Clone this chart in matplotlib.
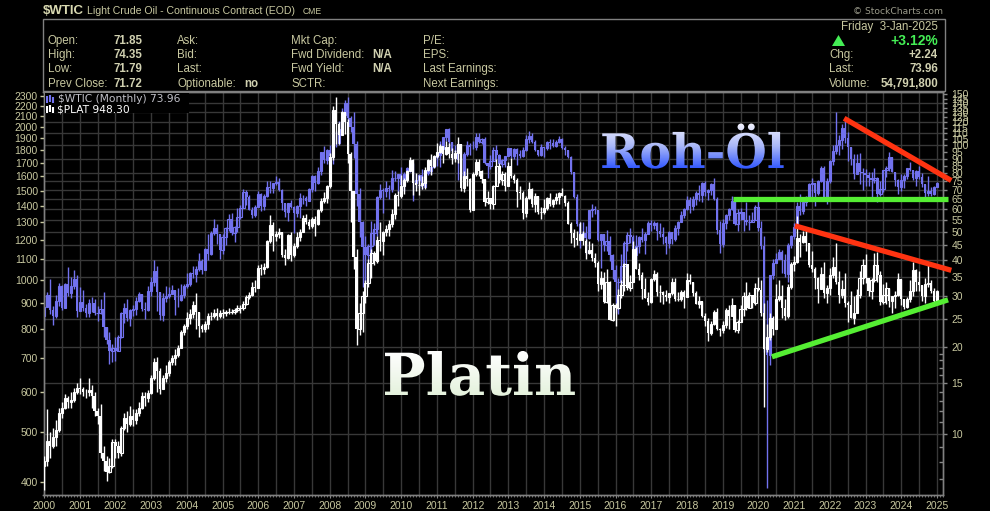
import numpy as np
import matplotlib
matplotlib.use("Agg")
import matplotlib.pyplot as plt
import matplotlib.ticker as mticker
from matplotlib.patches import Rectangle, PathPatch, Polygon
from matplotlib.textpath import TextPath
from matplotlib.font_manager import FontProperties
from matplotlib.transforms import Affine2D
from matplotlib.colors import LinearSegmentedColormap

# ---- data: monthly bars Jan 2000 .. Jan 2025 ----
wtic_first_open = 25.60
wtic_last_open = 71.85
wtic_close = [
    27.64, 30.43, 26.90, 25.74, 29.01, 32.50, 27.43, 33.12, 30.84, 32.70, 34.40, 26.80,  # 2000
    28.66, 27.39, 26.29, 28.46, 28.37, 26.25, 26.35, 27.20, 23.43, 21.18, 19.44, 19.84,  # 2001
    19.48, 21.74, 26.31, 27.29, 25.31, 26.86, 27.02, 28.98, 30.45, 27.22, 26.89, 31.20,  # 2002
    33.51, 36.60, 31.04, 25.80, 29.56, 30.19, 30.54, 31.57, 29.20, 29.11, 30.41, 32.52,  # 2003
    33.05, 36.16, 35.76, 37.38, 39.88, 37.05, 43.80, 42.12, 49.64, 51.76, 49.13, 43.45,  # 2004
    48.20, 51.75, 55.40, 49.72, 51.97, 56.50, 60.57, 68.94, 66.24, 59.76, 57.32, 61.04,  # 2005
    67.92, 61.41, 66.63, 71.88, 71.29, 73.93, 74.40, 70.26, 62.91, 58.73, 63.13, 61.05,  # 2006
    58.14, 61.79, 65.87, 65.71, 64.01, 70.68, 78.21, 74.04, 81.66, 94.53, 88.71, 95.98,  # 2007
    91.75, 101.84, 101.58, 113.46, 127.35, 140.00, 124.08, 115.46, 100.64, 67.81, 54.43, 44.60,  # 2008
    41.68, 44.76, 49.66, 51.12, 66.31, 69.89, 69.45, 70.94, 70.61, 77.00, 77.28, 79.36,  # 2009
    72.89, 79.66, 83.76, 86.15, 73.97, 75.63, 78.95, 71.92, 79.97, 81.43, 84.11, 91.38,  # 2010
    92.19, 96.97, 106.72, 113.93, 102.70, 95.42, 95.70, 88.81, 79.20, 93.19, 100.36, 98.83,  # 2011
    98.48, 107.07, 103.02, 104.87, 86.53, 84.96, 88.06, 96.47, 92.19, 86.24, 88.91, 91.82,  # 2012
    97.49, 92.05, 97.23, 93.46, 91.97, 96.56, 105.03, 107.65, 102.33, 96.38, 92.72, 98.42,  # 2013
    97.49, 102.59, 101.58, 99.74, 102.71, 105.37, 98.17, 95.96, 91.16, 80.54, 66.15, 53.27,  # 2014
    48.24, 49.76, 47.60, 59.63, 60.30, 59.47, 47.12, 49.20, 45.09, 46.59, 41.65, 37.04,  # 2015
    33.62, 33.75, 38.34, 45.92, 49.10, 48.33, 41.60, 44.70, 48.24, 46.86, 49.44, 53.72,  # 2016
    52.81, 54.01, 50.60, 49.33, 48.32, 46.04, 50.17, 47.23, 51.67, 54.38, 57.40, 60.42,  # 2017
    64.73, 61.64, 64.94, 68.57, 67.04, 74.15, 68.76, 69.80, 73.25, 65.31, 50.93, 45.41,  # 2018
    53.79, 57.22, 60.14, 63.91, 53.50, 58.47, 58.58, 55.10, 54.07, 54.18, 55.17, 61.06,  # 2019
    51.56, 44.76, 20.48, 18.84, 35.49, 39.27, 40.27, 42.61, 40.22, 35.79, 45.34, 48.52,  # 2020
    52.20, 61.50, 59.16, 63.58, 66.32, 73.47, 73.95, 68.50, 75.03, 83.57, 66.18, 75.21,  # 2021
    88.15, 95.72, 100.28, 104.69, 114.67, 105.76, 98.62, 89.55, 79.49, 86.53, 80.55, 80.26,  # 2022
    78.87, 77.05, 75.67, 76.78, 68.09, 70.64, 81.80, 83.63, 90.79, 81.02, 75.96, 71.65,  # 2023
    75.85, 78.26, 83.17, 81.93, 76.99, 81.54, 77.91, 73.55, 68.17, 69.26, 68.00, 71.72,  # 2024
    73.96,  # Jan 2025
]
wtic_high = [
    30.25, 31.00, 34.37, 27.80, 30.30, 33.30, 32.90, 33.40, 37.80, 35.10, 37.00, 35.70,
    32.20, 31.50, 28.30, 29.40, 29.90, 29.30, 27.80, 29.30, 31.10, 23.40, 22.50, 20.50,
    21.70, 22.00, 26.50, 28.40, 29.30, 27.10, 28.00, 29.90, 31.10, 30.60, 28.60, 32.70,
    35.10, 39.99, 38.10, 31.10, 30.80, 32.50, 32.30, 32.80, 30.00, 32.10, 33.00, 33.20,
    36.00, 36.50, 38.30, 38.20, 42.40, 40.40, 44.20, 49.40, 50.50, 55.70, 53.20, 47.00,
    49.40, 52.00, 57.60, 58.30, 52.50, 60.90, 62.30, 70.85, 70.00, 67.40, 61.00, 61.90,
    69.20, 68.20, 67.70, 75.35, 75.20, 74.20, 78.40, 77.30, 70.40, 62.90, 63.30, 64.60,
    61.60, 62.30, 68.10, 67.40, 66.70, 71.10, 78.77, 78.60, 84.10, 94.74, 99.29, 96.80,
    100.09, 103.05, 111.80, 120.93, 135.09, 143.67, 147.27, 126.00, 130.00, 103.80, 71.40, 54.70,
    48.60, 45.50, 54.70, 53.80, 66.70, 73.38, 71.00, 75.00, 72.80, 82.00, 81.50, 79.70,
    83.95, 80.50, 83.90, 87.15, 87.00, 79.30, 79.30, 83.00, 80.20, 84.60, 88.60, 92.00,
    92.60, 103.40, 106.95, 113.93, 114.80, 102.40, 100.60, 98.30, 90.50, 94.60, 103.40, 101.80,
    103.70, 110.50, 110.55, 106.30, 106.40, 86.90, 92.90, 98.30, 100.40, 93.60, 89.90, 91.90,
    98.20, 98.20, 97.80, 97.80, 96.10, 99.00, 108.90, 112.24, 110.70, 104.30, 95.70, 100.80,
    98.30, 103.40, 105.20, 104.90, 104.20, 107.70, 106.00, 99.30, 95.90, 91.50, 80.10, 67.60,
    54.30, 54.20, 52.50, 59.90, 62.60, 61.60, 59.30, 49.30, 49.20, 50.90, 48.40, 42.10,
    38.40, 34.70, 41.90, 46.80, 50.20, 51.70, 49.00, 48.80, 48.40, 51.90, 50.00, 54.50,
    55.20, 54.90, 54.40, 53.80, 52.00, 48.70, 50.40, 50.20, 52.80, 54.90, 59.05, 60.50,
    66.66, 66.30, 66.60, 69.60, 72.90, 74.50, 75.30, 70.40, 73.90, 76.90, 66.00, 54.60,
    55.40, 57.80, 60.70, 66.60, 63.80, 60.00, 60.90, 58.20, 63.40, 57.40, 58.70, 61.90,
    65.65, 54.60, 48.70, 29.10, 35.50, 40.40, 42.50, 43.80, 43.50, 41.90, 45.90, 49.10,
    53.90, 63.80, 67.90, 65.50, 67.00, 74.30, 76.98, 71.50, 76.00, 84.97, 84.60, 76.90,
    88.80, 100.50, 130.50, 108.50, 118.70, 123.70, 111.40, 97.70, 93.60, 93.60, 93.70, 83.30,
    82.70, 80.60, 81.00, 83.50, 77.40, 75.10, 82.00, 84.90, 95.00, 90.00, 80.20, 76.20,
    79.30, 79.60, 83.50, 87.70, 81.50, 82.30, 84.50, 80.20, 71.80, 78.50, 71.90, 72.50,
    74.35,
]
wtic_low = [
    24.70, 27.50, 26.10, 23.85, 25.30, 27.80, 26.90, 27.50, 30.00, 29.60, 31.80, 25.50,
    26.60, 26.70, 25.50, 25.50, 26.40, 25.80, 24.60, 26.10, 21.70, 20.50, 17.45, 17.80,
    17.90, 19.50, 21.50, 24.30, 24.70, 23.60, 25.70, 25.80, 28.70, 26.80, 25.00, 26.60,
    30.00, 32.60, 26.80, 24.80, 24.60, 28.60, 29.70, 30.70, 25.90, 27.50, 28.80, 29.60,
    32.10, 32.70, 34.70, 33.60, 36.80, 35.90, 36.90, 40.20, 41.60, 48.90, 45.60, 40.30,
    42.10, 45.00, 50.60, 49.10, 46.20, 50.30, 55.70, 60.80, 62.30, 59.60, 56.20, 56.60,
    61.20, 59.30, 59.60, 66.10, 68.40, 68.10, 72.60, 69.50, 59.50, 56.60, 54.90, 60.50,
    49.90, 56.40, 56.20, 62.80, 61.50, 63.90, 69.00, 69.20, 73.50, 79.00, 86.90, 86.10,
    86.10, 86.10, 98.70, 100.30, 109.20, 122.30, 120.40, 111.30, 90.50, 61.80, 48.20, 32.40,
    33.55, 33.50, 40.00, 45.00, 48.50, 65.40, 58.30, 66.30, 65.10, 69.10, 75.20, 68.60,
    72.40, 69.50, 78.00, 81.10, 64.20, 71.20, 71.30, 70.80, 72.60, 78.80, 79.40, 86.10,
    85.10, 84.10, 96.80, 103.80, 94.60, 89.60, 93.40, 75.70, 77.10, 74.95, 91.50, 92.50,
    97.30, 96.40, 102.00, 100.70, 85.80, 77.30, 83.00, 88.00, 90.00, 84.10, 84.10, 84.30,
    91.70, 90.60, 89.30, 85.60, 90.10, 91.00, 95.90, 102.20, 101.60, 95.90, 91.70, 91.80,
    91.20, 96.50, 97.40, 98.60, 98.40, 101.80, 97.20, 92.50, 90.40, 79.80, 65.70, 52.70,
    44.20, 47.30, 42.03, 47.30, 56.60, 58.00, 46.70, 37.75, 43.20, 43.20, 39.90, 34.50,
    26.19, 26.05, 32.10, 35.20, 43.00, 45.80, 40.60, 39.20, 42.50, 46.20, 42.20, 49.90,
    50.70, 51.20, 47.10, 48.20, 45.40, 42.05, 44.00, 45.60, 46.50, 49.10, 54.10, 56.10,
    59.80, 58.10, 59.90, 62.10, 64.30, 63.60, 67.00, 64.40, 67.40, 64.80, 49.40, 42.36,
    44.40, 51.20, 55.10, 59.90, 53.00, 50.60, 55.30, 50.50, 52.80, 50.90, 54.70, 55.40,
    50.60, 43.80, 19.30, 6.50, 17.30, 34.40, 39.10, 40.60, 36.10, 34.90, 33.60, 44.20,
    47.20, 51.60, 57.30, 57.60, 61.60, 66.10, 65.00, 61.70, 67.50, 74.50, 64.40, 62.40,
    74.30, 85.70, 93.50, 92.90, 97.20, 101.50, 88.20, 85.70, 76.30, 81.30, 73.60, 70.10,
    72.50, 72.30, 64.10, 73.80, 63.60, 66.80, 69.00, 77.60, 81.50, 80.60, 72.40, 67.70,
    69.30, 71.40, 76.60, 81.30, 76.00, 72.50, 76.70, 71.50, 65.30, 66.60, 66.60, 67.10,
    71.79,
]

plat_first_open = 429
plat_last_open = 910
plat_close = [
    440, 480, 470, 490, 505, 545, 560, 585, 575, 580, 600, 612,  # 2000
    608, 602, 600, 605, 590, 552, 540, 455, 440, 418, 430, 478,  # 2001
    470, 455, 510, 535, 520, 540, 530, 545, 560, 590, 585, 598,  # 2002
    640, 690, 660, 610, 640, 655, 690, 700, 710, 735, 790, 812,  # 2003
    840, 855, 890, 865, 810, 800, 820, 850, 850, 860, 850, 860,  # 2004
    860, 865, 865, 865, 870, 880, 880, 895, 925, 935, 970, 965,  # 2005
    1055, 1050, 1060, 1190, 1280, 1220, 1230, 1240, 1120, 1105, 1225, 1120,  # 2006
    1165, 1215, 1240, 1325, 1300, 1275, 1320, 1290, 1370, 1430, 1450, 1530,  # 2007
    1745, 2160, 2030, 1930, 2140, 2050, 1770, 1500, 1110, 800, 860, 930,  # 2008
    985, 1080, 1130, 1090, 1200, 1190, 1240, 1260, 1290, 1350, 1470, 1460,  # 2009
    1530, 1570, 1640, 1720, 1550, 1540, 1540, 1550, 1650, 1725, 1675, 1755,  # 2010
    1790, 1835, 1770, 1825, 1770, 1735, 1775, 1850, 1520, 1600, 1580, 1370,  # 2011
    1620, 1710, 1640, 1580, 1425, 1450, 1410, 1530, 1680, 1570, 1620, 1530,  # 2012
    1675, 1600, 1575, 1490, 1480, 1355, 1450, 1510, 1410, 1460, 1360, 1360,  # 2013
    1385, 1450, 1410, 1435, 1455, 1480, 1460, 1420, 1290, 1235, 1210, 1200,  # 2014
    1230, 1195, 1130, 1145, 1105, 1080, 980, 1010, 905, 990, 835, 890,  # 2015
    880, 935, 975, 1075, 965, 990, 1150, 1050, 1020, 960, 920, 905,  # 2016
    1005, 1025, 945, 945, 935, 925, 940, 990, 915, 915, 945, 925,  # 2017
    1000, 990, 940, 895, 910, 850, 830, 785, 820, 865, 800, 795,  # 2018
    815, 870, 850, 890, 795, 825, 875, 930, 880, 935, 900, 965,  # 2019
    955, 860, 730, 770, 840, 800, 915, 930, 880, 850, 970, 1075,  # 2020
    1085, 1210, 1185, 1220, 1180, 1070, 1050, 1010, 960, 1025, 940, 965,  # 2021
    1020, 1060, 990, 935, 960, 900, 890, 840, 860, 935, 1010, 1070,  # 2022
    1010, 950, 1000, 1070, 1020, 905, 935, 965, 910, 930, 935, 1005,  # 2023
    915, 885, 915, 950, 1045, 990, 975, 930, 980, 985, 950, 910,  # 2024
    948.30,  # Jan 2025
]
plat_high = [
    450, 555, 500, 510, 530, 560, 575, 595, 590, 600, 612, 625,
    640, 615, 610, 640, 620, 600, 560, 570, 470, 450, 445, 485,
    485, 480, 515, 545, 550, 565, 555, 555, 575, 600, 600, 605,
    650, 700, 705, 670, 650, 680, 695, 710, 730, 745, 795, 820,
    865, 875, 910, 940, 860, 820, 830, 860, 865, 875, 880, 870,
    875, 870, 880, 875, 880, 890, 890, 910, 935, 945, 990, 1000,
    1070, 1075, 1080, 1200, 1340, 1300, 1250, 1265, 1240, 1150, 1230, 1240,
    1180, 1240, 1260, 1345, 1350, 1320, 1330, 1335, 1380, 1450, 1490, 1535,
    1780, 2200, 2290, 2050, 2150, 2110, 2080, 1790, 1500, 1150, 900, 950,
    1000, 1100, 1150, 1140, 1220, 1300, 1250, 1285, 1310, 1380, 1480, 1500,
    1610, 1590, 1650, 1750, 1730, 1625, 1610, 1600, 1670, 1730, 1770, 1760,
    1860, 1850, 1840, 1880, 1860, 1820, 1800, 1910, 1850, 1640, 1660, 1590,
    1630, 1730, 1730, 1650, 1580, 1500, 1450, 1540, 1730, 1700, 1640, 1630,
    1710, 1740, 1620, 1590, 1530, 1500, 1460, 1560, 1520, 1480, 1460, 1390,
    1440, 1455, 1480, 1440, 1480, 1490, 1520, 1470, 1430, 1300, 1260, 1250,
    1300, 1250, 1205, 1190, 1180, 1130, 1090, 1040, 1035, 1050, 995, 900,
    900, 960, 1000, 1080, 1075, 1020, 1190, 1160, 1080, 1035, 1010, 945,
    1010, 1045, 1035, 975, 950, 955, 940, 1010, 1010, 945, 955, 955,
    1030, 1025, 990, 950, 930, 910, 860, 840, 830, 870, 880, 805,
    830, 880, 890, 920, 890, 835, 890, 945, 990, 945, 935, 985,
    1015, 1000, 900, 820, 860, 850, 980, 1000, 975, 915, 980, 1085,
    1115, 1339, 1230, 1250, 1270, 1180, 1140, 1060, 1015, 1060, 1085, 975,
    1055, 1110, 1180, 1040, 1000, 1030, 910, 950, 930, 960, 1040, 1100,
    1125, 1010, 1010, 1130, 1135, 1040, 980, 990, 960, 930, 950, 1030,
    980, 910, 925, 1000, 1085, 1050, 1040, 965, 1010, 1085, 1000, 965,
    955,
]
plat_low = [
    385, 430, 445, 465, 470, 500, 535, 555, 560, 560, 575, 595,
    595, 590, 585, 590, 560, 540, 520, 445, 420, 401, 415, 425,
    445, 445, 450, 505, 500, 515, 515, 520, 540, 555, 565, 575,
    595, 635, 600, 595, 610, 630, 645, 680, 680, 705, 735, 780,
    800, 820, 840, 800, 770, 790, 790, 800, 835, 840, 835, 840,
    840, 850, 855, 855, 855, 865, 860, 870, 890, 915, 930, 945,
    965, 1020, 1025, 1055, 1180, 1140, 1190, 1210, 1110, 1070, 1100, 1090,
    1110, 1155, 1190, 1240, 1290, 1260, 1265, 1220, 1280, 1360, 1420, 1420,
    1520, 1725, 1850, 1850, 1950, 1940, 1700, 1300, 1050, 745, 780, 790,
    900, 970, 1010, 1070, 1080, 1140, 1120, 1220, 1220, 1270, 1320, 1400,
    1450, 1475, 1560, 1640, 1470, 1500, 1470, 1510, 1510, 1640, 1610, 1660,
    1735, 1780, 1700, 1760, 1740, 1690, 1710, 1700, 1500, 1490, 1530, 1360,
    1380, 1600, 1600, 1550, 1400, 1410, 1380, 1380, 1530, 1550, 1540, 1500,
    1530, 1590, 1550, 1390, 1440, 1320, 1330, 1440, 1390, 1360, 1350, 1320,
    1350, 1370, 1400, 1390, 1410, 1410, 1460, 1400, 1290, 1180, 1160, 1170,
    1200, 1170, 1100, 1125, 1090, 1060, 950, 960, 900, 900, 835, 830,
    810, 875, 920, 950, 955, 950, 1000, 1050, 1000, 915, 920, 890,
    900, 995, 930, 905, 895, 908, 900, 935, 910, 910, 910, 880,
    930, 980, 930, 895, 880, 845, 810, 758, 780, 815, 795, 775,
    785, 805, 800, 850, 790, 785, 825, 850, 870, 880, 880, 890,
    950, 850, 562, 720, 760, 780, 805, 910, 840, 835, 840, 960,
    1040, 1080, 1110, 1180, 1140, 1060, 1035, 960, 900, 960, 920, 900,
    935, 1010, 980, 900, 920, 885, 825, 840, 820, 860, 920, 980,
    985, 930, 915, 990, 990, 890, 895, 895, 885, 860, 880, 930,
    890, 875, 880, 905, 930, 950, 950, 910, 900, 970, 940, 895,
    905,
]

# hand drawn trend lines: (dates, price)
red_top_x, red_top_wtic = [2022.40, 2025.40], [124.0, 75.5]
green_top_x, green_top_wtic = [2019.29, 2025.31], [65.0, 65.0]
red_low_x, red_low_plat = [2021.02, 2025.40], [1278, 1044]
green_low_x, green_low_plat = [2020.38, 2025.31], [705, 913]

left_ticks = list(range(400, 2400, 100))
right_ticks = list(range(10, 155, 5))
right_grid = list(range(10, 80, 5)) + [80, 90, 100, 110, 120, 130, 140]
right_minor = [6, 7, 8, 9, 11, 12, 13, 14, 16, 17, 18, 19]
years = list(range(2000, 2026))

TXT = "#c8c8a0"
GRID = "#383838"
BLUE = "#7272ee"

W, H = 990, 511
fig = plt.figure(figsize=(W / 100, H / 100), dpi=100, facecolor="black")
L, R, T, B = 43.5, 943.0, 92.0, 495.0
ax = fig.add_axes([L / W, 1 - B / H, (R - L) / W, (B - T) / H])
ax2 = ax.twinx()
ax.set_zorder(2)
ax.patch.set_visible(False)
ax2.set_zorder(1)
ax2.patch.set_visible(True)
ax2.patch.set_facecolor("black")

n = len(wtic_close)
xm = 2000 + np.arange(n) / 12.0


def candles(a, x, o, h, l, c, color, w=0.062):
    o, h, l, c = map(np.asarray, (o, h, l, c))
    h = np.maximum(h, np.maximum(o, c))
    l = np.minimum(l, np.minimum(o, c))
    a.vlines(x, l, h, color=color, lw=1.0, zorder=3)
    lo = np.minimum(o, c)
    hi = np.maximum(o, c)
    up = c >= o
    a.bar(x[~up], hi[~up] - lo[~up], bottom=lo[~up], width=w, color=color,
          lw=0, zorder=4)
    a.bar(x[up], hi[up] - lo[up], bottom=lo[up], width=w, facecolor="none",
          edgecolor=color, lw=0.8, zorder=4)


wo = [wtic_first_open] + wtic_close[:-1]
wo[-1] = wtic_last_open
po = [plat_first_open] + plat_close[:-1]
po[-1] = plat_last_open

candles(ax2, xm, wo, wtic_high, wtic_low, wtic_close, BLUE)
candles(ax, xm, po, plat_high, plat_low, plat_close, "white")

# grid (under everything)
for yv in right_grid:
    ax2.axhline(yv, color=GRID, lw=1, zorder=0)
for xv in np.arange(2000.5, 2025.2, 0.5):
    ax2.axvline(xv, color=GRID, lw=1, zorder=0)

# trend lines
kw = dict(lw=3.8, solid_capstyle="butt", clip_on=False, zorder=10)
ax.plot(red_top_x, red_top_wtic, color="#ff3311", transform=ax2.transData, **kw)
ax.plot(green_top_x, green_top_wtic, color="#55ee33", transform=ax2.transData, **kw)
ax.plot(red_low_x, red_low_plat, color="#ff3311", **kw)
ax.plot(green_low_x, green_low_plat, color="#55ee33", **kw)

# axes
ax.set_yscale("log")
ax2.set_yscale("log")
ax.set_xlim(2000 - 0.5 / 35.72, 2000 + (R - 44) / 35.72)
ax.set_ylim(376.4, 2346)
ax2.set_ylim(6.16, 152.9)

tfont = dict(family="Liberation Sans", size=7.5)
ax.yaxis.set_major_locator(mticker.FixedLocator(left_ticks))
ax.yaxis.set_minor_locator(mticker.NullLocator())
ax.set_yticklabels([str(v) for v in left_ticks], color=TXT, fontdict=tfont)
ax.tick_params(axis="y", which="major", length=3, width=1, color=TXT, pad=1)

ax2.yaxis.set_major_locator(mticker.FixedLocator(right_ticks))
ax2.yaxis.set_minor_locator(mticker.FixedLocator(right_minor))
ax2.yaxis.set_minor_formatter(mticker.NullFormatter())
ax2.set_yticklabels([str(v) for v in right_ticks], color=TXT, fontdict=tfont)
ax2.tick_params(axis="y", which="major", length=3, width=1, color="#888888", pad=3)
ax2.tick_params(axis="y", which="minor", length=3, width=1, color="#888888",
                direction="in")

ax.xaxis.set_major_locator(mticker.FixedLocator(years))
ax.set_xticklabels([str(y) for y in years], color=TXT, fontdict=tfont)
ax.xaxis.set_minor_locator(mticker.MultipleLocator(1 / 12))
ax.tick_params(axis="x", which="major", length=2, color="#888888", pad=2)
ax.tick_params(axis="x", which="minor", length=1.5, color="#888888")

for a in (ax, ax2):
    for s in a.spines.values():
        s.set_color("#808080")
        s.set_linewidth(1)

# ---- overlay for header and big labels (pixel coords) ----
ov = fig.add_axes([0, 0, 1, 1], zorder=20)
ov.patch.set_visible(False)
ov.axis("off")

hf = "Liberation Sans"
ov.add_patch(Rectangle((43, 19), 902, 72, facecolor="none",
                       edgecolor="#808080", lw=1))
ov.text(43, 11, "$WTIC", family=hf, weight="bold", size=9.5, color="#d8d8b0",
        va="center")
ov.text(87, 11, "Light Crude Oil - Continuous Contract (EOD)", family=hf,
        size=7.6, color=TXT, va="center")
ov.text(303, 11.5, "CME", family=hf, size=6.2, color=TXT, va="center")
ov.text(943, 12, "\u00a9 StockCharts.com", family="DejaVu Sans", size=6.6,
        color="#9a9a8a", va="center", ha="right")

rows = [41, 55, 69, 84]
col_a = ["Open:", "High:", "Low:", "Prev Close:"]
col_a_v = ["71.85", "74.35", "71.79", "71.72"]
col_b = ["Ask:", "Bid:", "Last:", "Optionable:"]
col_c = ["Mkt Cap:", "Fwd Dividend:", "Fwd Yield:", "SCTR:"]
col_c_v = ["", "N/A", "N/A", ""]
col_d = ["P/E:", "EPS:", "Last Earnings:", "Next Earnings:"]
hs = 8.3
for i, yy in enumerate(rows):
    ov.text(48, yy, col_a[i], family=hf, size=hs, color=TXT, va="center")
    ov.text(113, yy, col_a_v[i], family=hf, size=hs, weight="bold",
            color="#d0d0b0", va="center")
    ov.text(177, yy, col_b[i], family=hf, size=hs, color=TXT, va="center")
    ov.text(291, yy, col_c[i], family=hf, size=hs, color=TXT, va="center")
    if col_c_v[i]:
        ov.text(372, yy, col_c_v[i], family=hf, size=hs, weight="bold",
                color="#d0d0b0", va="center")
    ov.text(423, yy, col_d[i], family=hf, size=hs, color=TXT, va="center")
ov.text(244, 84, "no", family=hf, size=hs, weight="bold", color="#d0d0b0",
        va="center")

ov.text(938, 27, "Friday  3-Jan-2025", family=hf, size=hs, color=TXT,
        va="center", ha="right")
ov.add_patch(Polygon([[832, 46], [845, 46], [838.5, 35]], closed=True,
                     facecolor="#44ee55", edgecolor="none"))
ov.text(938, 41, "+3.12%", family=hf, size=10, weight="bold", color="#44ee55",
        va="center", ha="right")
for yy, lab, val in [(55, "Chg:", "+2.24"), (69, "Last:", "73.96"),
                     (84, "Volume:", "54,791,800")]:
    ov.text(829, yy, lab, family=hf, size=hs, color=TXT, va="center")
    ov.text(938, yy, val, family=hf, size=hs, weight="bold", color="#d0d0b0",
            va="center", ha="right")

# legend in the plot corner
ov.add_patch(Rectangle((45, 93), 144, 20, facecolor="black", edgecolor="none"))
ov.vlines([47, 50, 53], [96, 95, 97], [103, 102, 103], color=BLUE, lw=1.5)
ov.vlines([47, 50, 53], [106, 105, 107], [113, 112, 113], color="white", lw=1.5)
ov.text(58, 99.5, "$WTIC (Monthly) 73.96", family="DejaVu Sans", size=7.7,
        color="#c0c0c8", va="center")
ov.text(57, 109.5, "$PLAT 948.30", family="DejaVu Sans", size=7.7,
        color="white", va="center")


def grad_text(s, x, y, size, c_top, c_mid, c_bot):
    fp = FontProperties(family="DejaVu Serif", weight="bold")
    tp = TextPath((0, 0), s, size=size, prop=fp)
    tr = Affine2D().scale(1, -1).translate(x, y) + ov.transData
    patch = PathPatch(tp, transform=tr, facecolor="none", edgecolor="none")
    ov.add_patch(patch)
    bb = tp.get_extents()
    cmap = LinearSegmentedColormap.from_list("g", [c_top, c_mid, c_bot])
    grad = np.linspace(0, 1, 256).reshape(-1, 1)
    im = ov.imshow(grad, cmap=cmap, aspect="auto", origin="upper",
                   extent=[x + bb.x0, x + bb.x1, y - bb.y0, y - bb.y1],
                   interpolation="bilinear", zorder=30)
    im.set_clip_path(patch)


grad_text("Roh-Öl", 600, 168, 47.5, "#f4f4ff", "#aab8f8", "#2f55ff")
grad_text("Platin", 382, 395, 58, "#ffffff", "#f2f8ee", "#e4f2dc")

ov.set_xlim(0, W)
ov.set_ylim(H, 0)

fig.savefig("out.png", dpi=100, facecolor="black")
